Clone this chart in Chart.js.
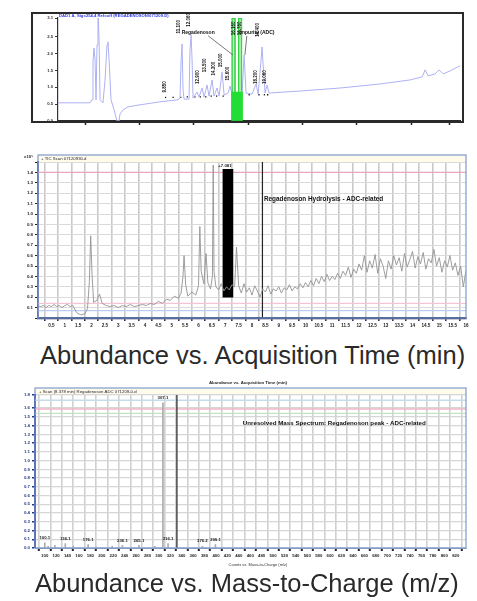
<!DOCTYPE html>
<html>
<head>
<meta charset="utf-8">
<script src="https://cdn.jsdelivr.net/npm/chart.js@4.4.0/dist/chart.umd.min.js"></script>
<style>
body { margin:0; background:#fff; width:477px; height:601px; position:relative; overflow:hidden; font-family:"Liberation Sans", Arial, sans-serif; }
.box { position:absolute; }
.cap { position:absolute; white-space:nowrap; font-size:25.5px; color:#2a2a2a; line-height:26px; }
</style>
</head>
<body>
<div class="box" style="left:30px;top:8px;width:440px;height:128px"><canvas id="tic"></canvas></div>
<div class="box" style="left:10px;top:146px;width:462px;height:192px"><canvas id="eic"></canvas></div>
<div class="cap" style="left:40px;top:342px">Abundance vs. Acquisition Time (min)</div>
<div class="box" style="left:8px;top:378px;width:464px;height:192px"><canvas id="ms"></canvas></div>
<div class="cap" style="left:35px;top:570px">Abundance vs. Mass-to-Charge (m/z)</div>

<script>
// --- top chromatogram (UV/TIC overview) ---
var time1 = [0, 2.95, 3.13, 3.22, 3.31, 3.41, 3.5, 3.59, 3.68, 3.78, 3.87, 4.14, 4.33, 4.51, 4.6, 4.7, 4.88, 5.16, 5.43, 5.62,
    5.71, 5.99, 6.45, 7.55, 9.39, 11.05, 11.23, 11.33, 11.42, 11.51, 11.6, 12.06, 12.15, 12.25, 12.34, 12.43, 12.8, 12.98, 13.26, 13.44,
    13.72, 13.9, 14.18, 14.36, 14.64, 14.83, 15.1, 15.29, 15.65, 15.84, 16.02, 16.39, 16.94, 17.13, 17.31, 17.86, 18.23, 18.42, 18.69, 18.78,
    18.88, 19.06, 19.24, 19.43, 22.28, 25.97, 29.65, 32.41, 33.52, 33.79, 34.07, 34.71, 35.08, 35.45, 36.1, 37];
var signal1 = [0.54, 0.54, 0.63, 1.76, 2.17, 1.82, 0.63, 2.26, 3.3, 2.41, 0.63, 0.54, 1.22, 2.26, 2.35, 1.82, 0.63, 0.33, 0, 0,
    0.21, 0.33, 0.42, 0.48, 0.57, 0.63, 0.68, 1.82, 2.29, 0.92, 0.65, 0.65, 2.11, 2.56, 1.82, 0.68, 0.86, 0.71, 0.98, 0.71,
    1.07, 0.74, 1.22, 0.74, 0.98, 0.74, 1.46, 0.77, 0.83, 1.04, 0.77, 0.77, 0.8, 1.96, 0.83, 0.8, 1.1, 0.8, 1.82, 2.2,
    1.67, 0.83, 1.07, 0.83, 0.89, 0.98, 1.1, 1.22, 1.31, 1.52, 1.34, 1.4, 1.52, 1.4, 1.49, 1.64];
var greenPeaks = [16.16, 16.76];
var greenWindow = [16.02, 16.94];
var greenFill = 0.86;
var c1LabelX = [9.85, 11.1, 12.06, 12.9, 13.5, 14.3, 15.0, 15.6, 18.2, 18.4, 19.06];
var c1LabelY = [0.85, 2.6, 2.8, 1.1, 1.45, 1.35, 1.6, 1.2, 1.1, 2.5, 1.1];
var c1MarkX = [9.9, 10.6, 11.3, 11.9, 12.6, 13.1, 13.6, 14.1, 14.6, 15.2, 17.6, 18.5, 19.0, 19.3];
var c1MarkY = [0.7, 0.7, 0.7, 0.72, 0.72, 0.72, 0.72, 0.74, 0.74, 0.74, 0.78, 0.78, 0.78, 0.78];
var c1Notes = ['Regadenoson', 'Impurity (ADC)'];
var c1NoteX = [12.9, 18.3];
var c1NoteY = 2.62;
var c1NoteTo = [16.1, 17.2];
var c1NoteToY = 1.96;

// --- extracted chromatogram (x10^5) ---
var time2 = [0.0, 0.1, 0.2, 0.3, 0.4, 0.5, 0.6, 0.7, 0.8, 0.9, 1.0, 1.1, 1.2, 1.3, 1.45, 1.6, 1.75, 1.85, 1.92, 1.97,
    2.02, 2.08, 2.2, 2.3, 2.4, 2.55, 2.7, 2.85, 3.0, 3.15, 3.3, 3.45, 3.6, 3.75, 3.9, 4.05, 4.2, 4.35, 4.5, 4.65,
    4.8, 4.95, 5.1, 5.25, 5.35, 5.42, 5.46, 5.52, 5.6, 5.75, 5.9, 6.0, 6.05, 6.1, 6.2, 6.28, 6.35, 6.45, 6.52, 6.55,
    6.58, 6.65, 6.75, 6.85, 6.95, 7.05, 7.15, 7.25, 7.35, 7.42, 7.5, 7.6, 7.7, 7.8, 7.9, 8.0, 8.1, 8.2, 8.3, 8.4,
    8.5, 8.6, 8.7, 8.8, 8.9, 9.0, 9.1, 9.2, 9.3, 9.4, 9.5, 9.6, 9.7, 9.8, 9.9, 10.0, 10.1, 10.2, 10.3, 10.4,
    10.5, 10.6, 10.7, 10.8, 10.9, 11.0, 11.1, 11.2, 11.3, 11.4, 11.5, 11.6, 11.7, 11.8, 11.9, 12.0, 12.1, 12.2, 12.3, 12.4,
    12.5, 12.6, 12.7, 12.8, 12.9, 13.0, 13.1, 13.2, 13.3, 13.4, 13.5, 13.6, 13.7, 13.8, 13.9, 14.0, 14.1, 14.2, 14.3, 14.4,
    14.5, 14.6, 14.7, 14.8, 14.9, 15.0, 15.1, 15.2, 15.3, 15.4, 15.5, 15.6, 15.7, 15.8, 15.9, 16.0];
var abund2 = [0.12, 0.11, 0.12, 0.10, 0.12, 0.11, 0.13, 0.11, 0.12, 0.10, 0.12, 0.13, 0.11, 0.12, 0.05, 0.03, 0.04, 0.09, 0.35, 0.79,
    0.42, 0.15, 0.17, 0.23, 0.14, 0.12, 0.11, 0.12, 0.10, 0.12, 0.11, 0.13, 0.11, 0.12, 0.13, 0.12, 0.14, 0.13, 0.16, 0.14,
    0.18, 0.17, 0.21, 0.19, 0.24, 0.40, 0.60, 0.32, 0.21, 0.25, 0.22, 0.31, 0.88, 0.45, 0.33, 0.62, 0.34, 0.28, 0.40, 1.47,
    0.45, 0.30, 0.27, 0.33, 0.26, 0.30, 0.27, 0.32, 0.30, 0.68, 0.31, 0.24, 0.33, 0.25, 0.29, 0.22, 0.31, 0.26, 0.20, 0.28,
    0.25, 0.31, 0.23, 0.28, 0.26, 0.30, 0.24, 0.29, 0.27, 0.32, 0.26, 0.30, 0.28, 0.33, 0.29, 0.34, 0.30, 0.36, 0.31, 0.38,
    0.33, 0.40, 0.35, 0.42, 0.36, 0.40, 0.37, 0.43, 0.38, 0.45, 0.41, 0.49, 0.39, 0.47, 0.43, 0.52, 0.46, 0.60, 0.44, 0.55,
    0.48, 0.61, 0.43, 0.57, 0.50, 0.38, 0.55, 0.47, 0.60, 0.51, 0.58, 0.45, 0.62, 0.49, 0.56, 0.64, 0.48, 0.59, 0.52, 0.63,
    0.47, 0.57, 0.53, 0.66, 0.50, 0.58, 0.44, 0.55, 0.49, 0.60, 0.46, 0.53, 0.41, 0.50, 0.30, 0.46];
var selTime = 7.1;
var selRange = [0.2, 1.43];
var cursorTime = 8.39;
var c2RefY = [1.4, 0.14, 0.07];
var c2RefColor = ['#e8a6b8', '#f3c6d2', '#b9cdf0'];

// --- mass spectrum ---
var mz3 = [100.1, 106.0, 118.0, 136.1, 150.0, 176.1, 190.0, 218.2, 236.1, 265.1, 293.0, 307.1, 316.1, 376.2, 399.1];
var int3 = [0.06, 0.02, 0.03, 0.05, 0.02, 0.04, 0.01, 0.02, 0.03, 0.03, 0.02, 1.66, 0.05, 0.02, 0.04];
var mzLabeled = [100.1, 136.1, 176.1, 236.1, 265.1, 307.1, 316.1, 376.2, 399.1];
var cursorMz = 331.6;
var c3RefY = [1.69, 1.59, 1.54];
var c3RefColor = ['#c4dde8', '#eeb4c8', '#c4e2c4'];

Chart.defaults.font.family = '"Liberation Sans", Arial, sans-serif';
Chart.defaults.animation = false;

function pts(xs, ys) {
    return xs.map(function(x, i) { return {x: x, y: ys[i]}; });
}

function txt(ctx, s, x, y, size, color, bold, align, rot) {
    ctx.save();
    ctx.font = (bold ? 'bold ' : '') + size + 'px "Liberation Sans", Arial';
    ctx.fillStyle = color;
    ctx.textAlign = align || 'left';
    ctx.textBaseline = 'middle';
    ctx.translate(x, y);
    if (rot) ctx.rotate(rot);
    ctx.fillText(s, 0, 0);
    ctx.restore();
}

function hline(chart, vals, cols) {
    var ctx = chart.ctx, a = chart.chartArea, y = chart.scales.y;
    ctx.save();
    vals.forEach(function(v, i) {
        var py = y.getPixelForValue(v);
        ctx.strokeStyle = cols[i];
        ctx.lineWidth = 1.3;
        ctx.beginPath(); ctx.moveTo(a.left, py); ctx.lineTo(a.right, py); ctx.stroke();
    });
    ctx.restore();
}

// ===================== chart 1 =====================
var deco1 = {
    id: 'deco1',
    afterDraw: function(chart) {
        var ctx = chart.ctx, x = chart.scales.x, y = chart.scales.y;
        ctx.save();
        ctx.strokeStyle = '#2a2a2a';
        ctx.lineWidth = 2;
        ctx.strokeRect(2, 5, 431, 109);
        ctx.restore();
        txt(ctx, 'DAD1 A, Sig=254,4 Ref=off (REGADENOSON\\071209.D)', 29, 8, 4.2, '#2d3be0', true);
        for (var i = 0; i < c1LabelX.length; i++) {
            txt(ctx, c1LabelX[i].toFixed(3), x.getPixelForValue(c1LabelX[i]), y.getPixelForValue(c1LabelY[i]), 4.5, '#111', true, 'left', -Math.PI / 2);
        }
        greenPeaks.forEach(function(g) {
            txt(ctx, g.toFixed(3), x.getPixelForValue(g), y.getPixelForValue(2.75), 4.5, '#111', true, 'center', -Math.PI / 2);
        });
        ctx.save();
        ctx.strokeStyle = '#555';
        ctx.lineWidth = 0.8;
        for (var j = 0; j < c1Notes.length; j++) {
            var nx = x.getPixelForValue(c1NoteX[j]), ny = y.getPixelForValue(c1NoteY);
            txt(ctx, c1Notes[j], nx, ny, 5, '#111', true, 'center');
            ctx.beginPath();
            ctx.moveTo(nx + (j === 0 ? 10 : -10), ny + 3);
            ctx.lineTo(x.getPixelForValue(c1NoteTo[j]), y.getPixelForValue(c1NoteToY));
            ctx.stroke();
        }
        ctx.restore();
    }
};

new Chart(document.getElementById('tic'), {
    type: 'line',
    data: {
        datasets: [{
            type: 'bar',
            data: [{x: (greenWindow[0] + greenWindow[1]) / 2, y: [0, greenFill]}],
            backgroundColor: '#22dd33',
            borderWidth: 0,
            barThickness: 11,
            grouped: false
        }, {
            type: 'bar',
            data: greenPeaks.map(function(g) { return {x: g, y: [0, 3.06]}; }),
            backgroundColor: 'rgba(170,240,170,0.45)',
            borderColor: '#2fd23f',
            borderWidth: 1.2,
            barThickness: 4,
            grouped: false
        }, {
            data: pts(time1, signal1),
            borderColor: '#aeb1f2',
            borderWidth: 1,
            pointRadius: 0,
            tension: 0
        }, {
            data: pts(c1MarkX, c1MarkY),
            showLine: false,
            pointStyle: 'rect',
            pointRadius: 0.9,
            backgroundColor: '#111',
            borderWidth: 0
        }]
    },
    options: {
        responsive: true,
        maintainAspectRatio: false,
        layout: {padding: {top: 10, right: 10, left: 0, bottom: 0}},
        plugins: {legend: {display: false}, tooltip: {enabled: false}},
        scales: {
            x: {
                type: 'linear', min: 0, max: 37, offset: false,
                ticks: {stepSize: 5, display: false},
                grid: {drawOnChartArea: false, tickLength: 4, tickColor: '#222', tickWidth: 1.5},
                border: {color: '#2a2a2a', width: 2},
                afterFit: function(s) { s.height = 15; }
            },
            y: {
                min: 0, max: 3.06,
                ticks: {stepSize: 0.5, font: {size: 4.2, weight: 'bold'}, color: '#333', padding: 2,
                    callback: function(v) { return v.toFixed(1); }},
                grid: {drawOnChartArea: false, tickLength: 3, tickColor: '#333'},
                border: {color: '#333', width: 1.2},
                afterFit: function(s) { s.width = 28; }
            }
        }
    },
    plugins: [deco1]
});

// ===================== chart 2 =====================
var deco2 = {
    id: 'deco2',
    beforeDatasetsDraw: function(chart) {
        hline(chart, c2RefY, c2RefColor);
    },
    beforeDraw: function(chart) {
        var ctx = chart.ctx;
        ctx.save();
        ctx.fillStyle = '#fffbea';
        ctx.fillRect(28, 9, 428, 7);
        ctx.restore();
    },
    afterDraw: function(chart) {
        var ctx = chart.ctx, x = chart.scales.x, y = chart.scales.y, a = chart.chartArea;
        ctx.save();
        ctx.strokeStyle = '#7f9ccc';
        ctx.lineWidth = 1.2;
        ctx.strokeRect(28, 9, 428, a.bottom - 9);
        ctx.restore();
        txt(ctx, '+ TIC Scan 07120930.d', 31, 12.5, 4.3, '#223', false);
        txt(ctx, 'x10\u2075', 14, 11, 4.3, '#222', true);
        txt(ctx, '+7.081', x.getPixelForValue(selTime) - 3, y.getPixelForValue(selRange[1]) - 3.5, 4.3, '#222', true, 'center');
        txt(ctx, 'Regadenoson Hydrolysis - ADC-related', x.getPixelForValue(cursorTime) + 1.5, y.getPixelForValue(1.14), 6.4, '#111', true);
    }
};

new Chart(document.getElementById('eic'), {
    type: 'line',
    data: {
        datasets: [{
            data: pts(time2, abund2),
            borderColor: '#939393',
            borderWidth: 0.9,
            pointRadius: 0,
            tension: 0
        }, {
            type: 'bar',
            data: [{x: selTime, y: selRange}],
            backgroundColor: '#000',
            barThickness: 10,
            grouped: false
        }, {
            data: [{x: cursorTime, y: 0}, {x: cursorTime, y: 1.5}],
            borderColor: '#222',
            borderWidth: 1.2,
            pointRadius: 0
        }]
    },
    options: {
        responsive: true,
        maintainAspectRatio: false,
        layout: {padding: {top: 16, right: 6, left: 0, bottom: 0}},
        plugins: {legend: {display: false}, tooltip: {enabled: false}},
        scales: {
            x: {
                type: 'linear', min: 0, max: 16, offset: false,
                ticks: {stepSize: 0.5, font: {size: 4.6, weight: 'bold'}, color: '#222', padding: 2, maxRotation: 0, autoSkip: false,
                    callback: function(v) { return v === 0 ? '' : String(v); }},
                grid: {color: '#c9c9c9', lineWidth: 1.6, tickLength: 3, tickColor: '#1d2b5c', tickWidth: 1.5},
                border: {color: '#1d2b5c', width: 2.2},
                afterFit: function(s) { s.height = 20; }
            },
            y: {
                min: 0, max: 1.5,
                ticks: {stepSize: 0.1, font: {size: 4.4, weight: 'bold'}, color: '#222', padding: 2, autoSkip: false,
                    callback: function(v) { return v === 0 || v > 1.45 ? '' : v.toFixed(1); }},
                grid: {color: '#dadada', lineWidth: 1, tickLength: 3, tickColor: '#222'},
                border: {color: '#3a4f9a', width: 1.8},
                afterFit: function(s) { s.width = 28; }
            }
        }
    },
    plugins: [deco2]
});

// ===================== chart 3 =====================
var deco3 = {
    id: 'deco3',
    beforeDatasetsDraw: function(chart) {
        hline(chart, c3RefY, c3RefColor);
    },
    beforeDraw: function(chart) {
        var ctx = chart.ctx;
        ctx.save();
        ctx.fillStyle = '#fffbea';
        ctx.fillRect(27, 10, 431, 7);
        ctx.restore();
    },
    afterDraw: function(chart) {
        var ctx = chart.ctx, x = chart.scales.x, y = chart.scales.y, a = chart.chartArea;
        ctx.save();
        ctx.strokeStyle = '#7f9ccc';
        ctx.lineWidth = 1.2;
        ctx.strokeRect(27, 10, 431, a.bottom - 10);
        ctx.restore();
        txt(ctx, 'Abundance vs. Acquisition Time (min)', 240, 5, 4.3, '#222', true, 'center');
        txt(ctx, '+ Scan (8.378 min) Regadenoson ADC 071209-0.d', 31, 13.5, 4.3, '#223', false);
        txt(ctx, 'Counts vs. Mass-to-Charge (m/z)', 250, 187, 4, '#333', false, 'center');
        mzLabeled.forEach(function(m) {
            var k = mz3.indexOf(m);
            txt(ctx, m.toFixed(1), x.getPixelForValue(m), y.getPixelForValue(int3[k]) - 5, 4.3, '#222', true, 'center');
        });
        txt(ctx, 'Unresolved Mass Spectrum: Regadenoson peak - ADC-related', x.getPixelForValue(447), y.getPixelForValue(1.43), 6.2, '#111', true);
    }
};

new Chart(document.getElementById('ms'), {
    type: 'line',
    data: {
        datasets: [{
            type: 'bar',
            data: pts(mz3, int3),
            backgroundColor: '#ababab',
            barThickness: 1,
            grouped: false
        }, {
            data: [{x: cursorMz, y: 0}, {x: cursorMz, y: 1.75}],
            borderColor: '#222',
            borderWidth: 1.2,
            pointRadius: 0
        }]
    },
    options: {
        responsive: true,
        maintainAspectRatio: false,
        layout: {padding: {top: 17, right: 6, left: 0, bottom: 0}},
        plugins: {legend: {display: false}, tooltip: {enabled: false}},
        scales: {
            x: {
                type: 'linear', min: 83, max: 838, offset: false,
                ticks: {stepSize: 20, includeBounds: false, font: {size: 4.3, weight: 'bold'}, color: '#222', padding: 2, maxRotation: 0, autoSkip: false},
                grid: {color: '#d0d0d0', lineWidth: 1.6, tickLength: 3, tickColor: '#222', tickWidth: 2},
                border: {color: '#7f9ccc', width: 1},
                afterFit: function(s) { s.height = 22; }
            },
            y: {
                min: 0, max: 1.75,
                ticks: {stepSize: 0.1, font: {size: 4.4, weight: 'bold'}, color: '#243a8c', padding: 2, autoSkip: false,
                    callback: function(v) { return v.toFixed(1); }},
                grid: {color: '#d6d6d6', lineWidth: 1.3, tickLength: 3, tickColor: '#243a8c', tickWidth: 1.5},
                border: {color: '#2c3c9c', width: 2},
                afterFit: function(s) { s.width = 27; }
            }
        }
    },
    plugins: [deco3]
});
</script>
</body>
</html>
